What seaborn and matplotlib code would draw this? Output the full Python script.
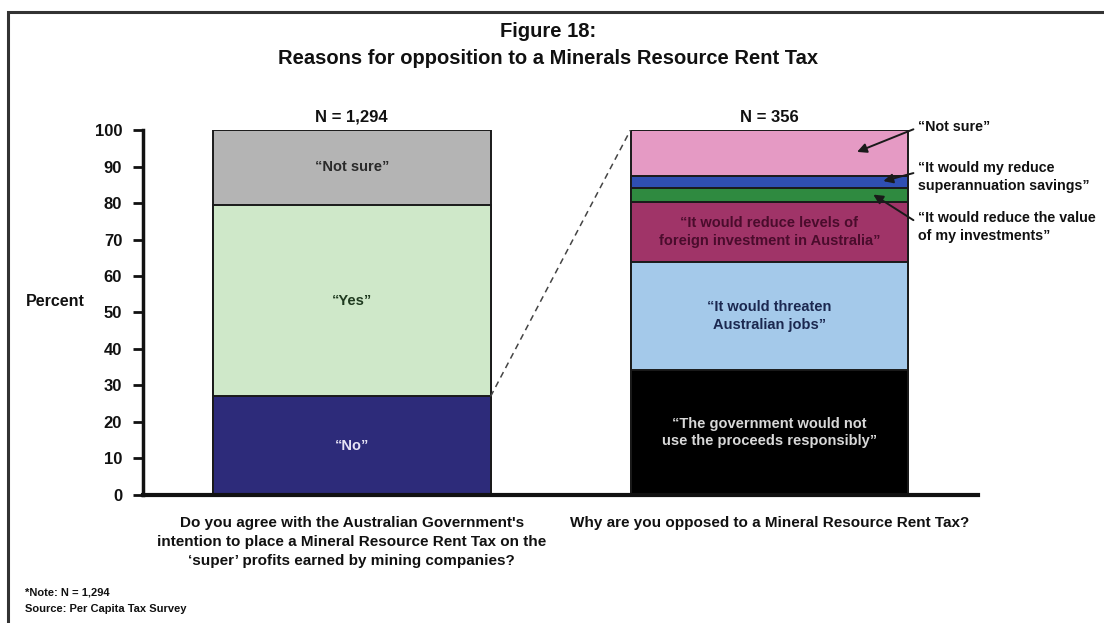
import matplotlib
matplotlib.use("Agg")
import matplotlib.pyplot as plt
from matplotlib.patches import Rectangle
import numpy as np
import seaborn as sns

# Survey results (percent), segments listed bottom to top
agree_labels = ["\u201cNo\u201d", "\u201cYes\u201d", "\u201cNot sure\u201d"]
agree_values = [27.0, 52.5, 20.5]
agree_colors = ["#2d2b7a", "#cfe8c9", "#b4b4b4"]
agree_text_colors = ["#e6e3f5", "#1f3a1f", "#2a2a2a"]

reason_labels = [
    "\u201cThe government would not\nuse the proceeds responsibly\u201d",
    "\u201cIt would threaten\nAustralian jobs\u201d",
    "\u201cIt would reduce levels of\nforeign investment in Australia\u201d",
    "\u201cIt would reduce the value\nof my investments\u201d",
    "\u201cIt would my reduce\nsuperannuation savings\u201d",
    "\u201cNot sure\u201d",
]
reason_values = [34.2, 29.7, 16.5, 3.8, 3.3, 12.5]
reason_colors = ["#000000", "#a4c9ea", "#a03468", "#2f8a40", "#2f4fb2", "#e59ac4"]
reason_text_colors = ["#d8d8d8", "#1b2850", "#4a0c2c", None, None, None]

questions = [
    "Do you agree with the Australian Government's\n"
    "intention to place a Mineral Resource Rent Tax on the\n"
    "\u2018super\u2019 profits earned by mining companies?",
    "Why are you opposed to a Mineral Resource Rent Tax?",
]
sample_sizes = ["N = 1,294", "N = 356"]
y_ticks = list(range(0, 101, 10))

sns.set_theme(style="white")
plt.rcParams["font.family"] = ["Liberation Sans", "DejaVu Sans"]
plt.rcParams["font.weight"] = "bold"
plt.rcParams["text.color"] = "#111111"

fig = plt.figure(figsize=(11.04, 6.23), dpi=100)
fig.patch.set_facecolor("white")
ax = fig.add_axes([0.1295, 0.2055, 0.7565, 0.5858])

cats = ["q1", "q2"]
bar_w = 0.665


def stack(cat, values, colors):
    tops = np.cumsum(values)
    # draw tallest first so each shorter bar overlays it, forming the stack
    for top, col in sorted(zip(tops, colors), key=lambda t: -t[0]):
        sns.barplot(x=[cat], y=[top], order=cats, color=col, width=bar_w,
                    saturation=1, errorbar=None, edgecolor="#1a1a1a",
                    linewidth=1.4, ax=ax)
    return tops


agree_tops = stack("q1", agree_values, agree_colors)
reason_tops = stack("q2", reason_values, reason_colors)

# Segment labels inside the bars
for lab, val, top, tc in zip(agree_labels, agree_values, agree_tops, agree_text_colors):
    ax.text(0, top - val / 2, lab, ha="center", va="center", fontsize=10.5,
            color=tc, fontweight="bold")
for lab, val, top, tc in zip(reason_labels, reason_values, reason_tops, reason_text_colors):
    if tc is None:
        continue
    ax.text(1, top - val / 2, lab, ha="center", va="center", fontsize=10.5,
            color=tc, fontweight="bold", linespacing=1.35)

# Callouts for the thin segments
callouts = [
    (5, 100.8, (1.345, 100.2), (1.21, 94.0)),
    (4, 87.1, (1.345, 88.2), (1.273, 86.0)),
    (3, 73.4, (1.345, 75.3), (1.249, 82.3)),
]
for idx, ty, tail, head in callouts:
    ax.text(1.355, ty, reason_labels[idx], ha="left", va="center",
            fontsize=10.3, color="#111111", fontweight="bold", linespacing=1.3)
    ax.annotate("", xy=head, xytext=tail,
                arrowprops=dict(arrowstyle="-|>", color="#1a1a1a", lw=1.4,
                                mutation_scale=14, shrinkA=0, shrinkB=0))

# Dashed link from "No" segment to the breakdown bar
ax.plot([bar_w / 2, 1 - bar_w / 2], [agree_tops[0], reason_tops[-1]],
        ls=(0, (4, 3)), color="#444444", lw=1.1)

# Sample sizes above the bars
for x, n in enumerate(sample_sizes):
    ax.text(x, 101.5, n, ha="center", va="bottom", fontsize=12,
            fontweight="bold", color="#111111")

ax.set_xlim(-0.5, 1.5)
ax.set_ylim(0, 100)
ax.set_yticks(y_ticks)
ax.set_yticklabels([str(t) for t in y_ticks], fontsize=12, fontweight="bold")
ax.set_xticks([0, 1])
ax.set_xticklabels(questions, fontsize=11, fontweight="bold", linespacing=1.45)
ax.tick_params(axis="x", length=0, pad=15, colors="#111111")
ax.tick_params(axis="y", direction="out", length=7, width=2, pad=8,
               left=True, colors="#111111")
ax.set_xlabel("")
ax.set_ylabel("Percent", rotation=0, fontsize=11.5, fontweight="bold",
              va="center", color="#111111")
ax.yaxis.set_label_coords(-0.105, 0.53)

for side in ["top", "right"]:
    ax.spines[side].set_visible(False)
ax.spines["left"].set_linewidth(2.5)
ax.spines["left"].set_color("#111111")
ax.spines["bottom"].set_linewidth(3)
ax.spines["bottom"].set_color("#111111")
ax.set_facecolor("white")

# Title
fig.text(0.4964, 0.950, "Figure 18:", ha="center", va="center",
         fontsize=14.5, fontweight="bold", color="#111111")
fig.text(0.4964, 0.906, "Reasons for opposition to a Minerals Resource Rent Tax",
         ha="center", va="center", fontsize=14.5, fontweight="bold", color="#111111")

# Footer
fig.text(0.023, 0.049, "*Note: N = 1,294", ha="left", va="center",
         fontsize=8, fontweight="bold")
fig.text(0.023, 0.022, "Source: Per Capita Tax Survey", ha="left", va="center",
         fontsize=8, fontweight="bold")

# Page frame
fig.patches.append(Rectangle((8 / 1104, -0.2), 1.2, 1.2 - 12 / 623,
                             transform=fig.transFigure, fill=False,
                             edgecolor="#333333", lw=2.2))

fig.savefig("out.png", dpi=100, facecolor="white")
